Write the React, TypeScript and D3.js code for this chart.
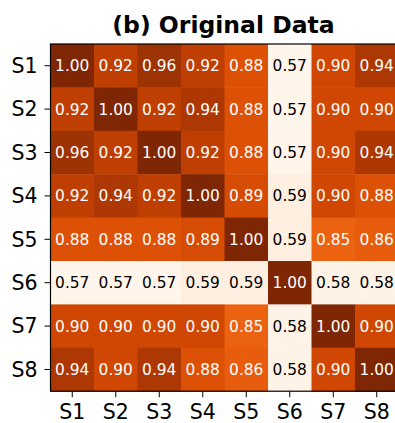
import React from "react";
import * as d3 from "d3";

// Sample labels along both axes
const samples = ["S1", "S2", "S3", "S4", "S5", "S6", "S7", "S8"];

// Pairwise correlation rows (row i = sample i)
const rowS1 = [1.0, 0.92, 0.96, 0.92, 0.88, 0.57, 0.9, 0.94];
const rowS2 = [0.92, 1.0, 0.92, 0.94, 0.88, 0.57, 0.9, 0.9];
const rowS3 = [0.96, 0.92, 1.0, 0.92, 0.88, 0.57, 0.9, 0.94];
const rowS4 = [0.92, 0.94, 0.92, 1.0, 0.89, 0.59, 0.9, 0.88];
const rowS5 = [0.88, 0.88, 0.88, 0.89, 1.0, 0.59, 0.85, 0.86];
const rowS6 = [0.57, 0.57, 0.57, 0.59, 0.59, 1.0, 0.58, 0.58];
const rowS7 = [0.9, 0.9, 0.9, 0.9, 0.85, 0.58, 1.0, 0.9];
const rowS8 = [0.94, 0.9, 0.94, 0.88, 0.86, 0.58, 0.9, 1.0];

const matrix = [rowS1, rowS2, rowS3, rowS4, rowS5, rowS6, rowS7, rowS8];

const title = "(b) Original Data";

export default function App() {
  const W = 395;
  const H = 423;
  const left = 50.5;
  const top = 44;
  const cellW = 43.5;
  const cellH = 43.4;

  const x = d3
    .scaleBand<string>()
    .domain(samples)
    .range([left, left + cellW * samples.length]);
  const y = d3
    .scaleBand<string>()
    .domain(samples)
    .range([top, top + cellH * samples.length]);

  const all = matrix.flat();
  const [vMin, vMax] = d3.extent(all) as [number, number];
  const color = d3.scaleSequential(d3.interpolateOranges).domain([vMin, vMax]);

  const font = "'DejaVu Sans', sans-serif";
  const [x0, x1] = x.range();
  const [y0, y1] = y.range();

  return (
    <svg
      width={W}
      height={H}
      style={{ position: "absolute", left: 0, top: 0, display: "block", background: "#fff" }}
    >
      <text
        x={(x0 + x1) / 2 - 1}
        y={33}
        textAnchor="middle"
        fontFamily={font}
        fontWeight="bold"
        fontSize={23.5}
        fill="#000"
      >
        {title}
      </text>

      {matrix.map((row, i) =>
        row.map((v, j) => {
          const cx = x(samples[j]) as number;
          const cy = y(samples[i]) as number;
          const t = (v - vMin) / (vMax - vMin);
          return (
            <g key={`${i}-${j}`}>
              <rect x={cx} y={cy} width={x.bandwidth() + 0.5} height={y.bandwidth() + 0.5} fill={color(v)} />
              <text
                x={cx + x.bandwidth() / 2}
                y={cy + y.bandwidth() / 2}
                dy="0.36em"
                textAnchor="middle"
                fontFamily={font}
                fontSize={15.4}
                fill={t < 0.5 ? "#000" : "#fff"}
              >
                {v.toFixed(2)}
              </text>
            </g>
          );
        })
      )}

      <rect x={x0} y={y0} width={x1 - x0} height={y1 - y0} fill="none" stroke="#000" strokeWidth={1.2} />

      {samples.map((s) => {
        const cy = (y(s) as number) + y.bandwidth() / 2;
        return (
          <g key={`y-${s}`}>
            <line x1={x0 - 6} x2={x0} y1={cy} y2={cy} stroke="#000" strokeWidth={1} />
            <text
              x={x0 - 13}
              y={cy}
              dy="0.36em"
              textAnchor="end"
              fontFamily={font}
              fontSize={20.5}
              fill="#000"
            >
              {s}
            </text>
          </g>
        );
      })}

      {samples.map((s) => {
        const cx = (x(s) as number) + x.bandwidth() / 2;
        return (
          <g key={`x-${s}`}>
            <line x1={cx} x2={cx} y1={y1} y2={y1 + 6} stroke="#000" strokeWidth={1} />
            <text
              x={cx}
              y={419}
              textAnchor="middle"
              fontFamily={font}
              fontSize={20.5}
              fill="#000"
            >
              {s}
            </text>
          </g>
        );
      })}
    </svg>
  );
}
